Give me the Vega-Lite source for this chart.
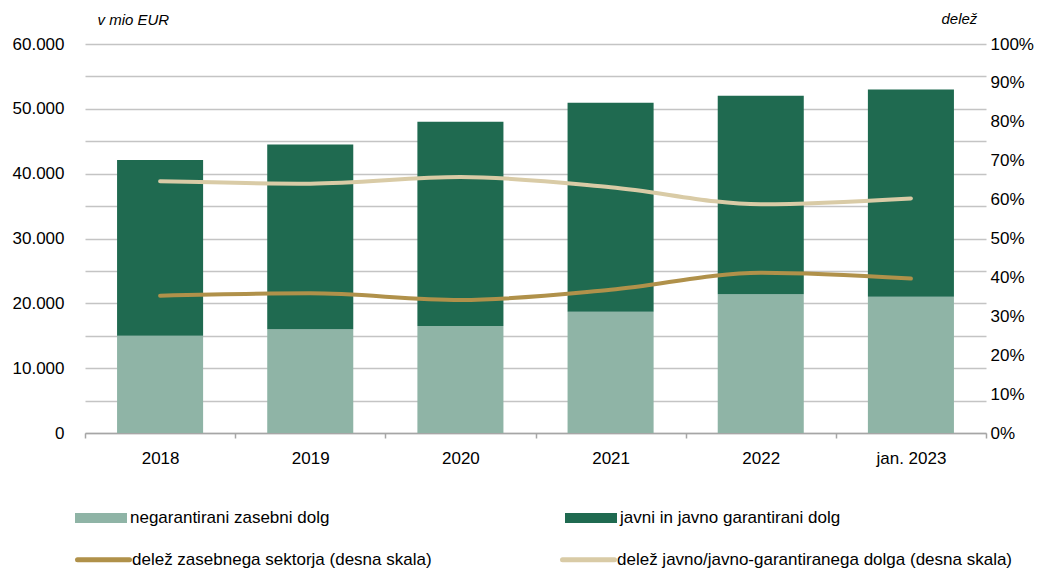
{
  "$schema": "https://vega.github.io/schema/vega-lite/v6.json",
  "width": 901,
  "height": 389,
  "autosize": {"type": "none"},
  "padding": {"left": 85, "top": 44, "right": 65, "bottom": 138},
  "background": "white",
  "config": {
    "view": {"stroke": null},
    "font": "Liberation Sans",
    "axis": {"labelFont": "Liberation Sans", "labelFontSize": 17, "labelColor": "#000000", "titleFont": "Liberation Sans"},
    "legend": {"labelFont": "Liberation Sans", "labelFontSize": 17, "labelColor": "#000000", "labelLimit": 0}
  },
  "datasets": {
    "bars": [
      {"year": "2018", "part": "negarantirani zasebni dolg", "value": 15000},
      {"year": "2018", "part": "javni in javno garantirani dolg", "value": 27100},
      {"year": "2019", "part": "negarantirani zasebni dolg", "value": 16000},
      {"year": "2019", "part": "javni in javno garantirani dolg", "value": 28500},
      {"year": "2020", "part": "negarantirani zasebni dolg", "value": 16500},
      {"year": "2020", "part": "javni in javno garantirani dolg", "value": 31500},
      {"year": "2021", "part": "negarantirani zasebni dolg", "value": 18700},
      {"year": "2021", "part": "javni in javno garantirani dolg", "value": 32250},
      {"year": "2022", "part": "negarantirani zasebni dolg", "value": 21400},
      {"year": "2022", "part": "javni in javno garantirani dolg", "value": 30600},
      {"year": "jan. 2023", "part": "negarantirani zasebni dolg", "value": 21000},
      {"year": "jan. 2023", "part": "javni in javno garantirani dolg", "value": 32000}
    ],
    "shares": [
      {"year": "2018", "series": "delež zasebnega sektorja (desna skala)", "share": 0.353},
      {"year": "2019", "series": "delež zasebnega sektorja (desna skala)", "share": 0.359},
      {"year": "2020", "series": "delež zasebnega sektorja (desna skala)", "share": 0.342},
      {"year": "2021", "series": "delež zasebnega sektorja (desna skala)", "share": 0.368},
      {"year": "2022", "series": "delež zasebnega sektorja (desna skala)", "share": 0.412},
      {"year": "jan. 2023", "series": "delež zasebnega sektorja (desna skala)", "share": 0.397},
      {"year": "2018", "series": "delež javno/javno-garantiranega dolga (desna skala)", "share": 0.647},
      {"year": "2019", "series": "delež javno/javno-garantiranega dolga (desna skala)", "share": 0.641},
      {"year": "2020", "series": "delež javno/javno-garantiranega dolga (desna skala)", "share": 0.658},
      {"year": "2021", "series": "delež javno/javno-garantiranega dolga (desna skala)", "share": 0.632},
      {"year": "2022", "series": "delež javno/javno-garantiranega dolga (desna skala)", "share": 0.588},
      {"year": "jan. 2023", "series": "delež javno/javno-garantiranega dolga (desna skala)", "share": 0.603}
    ]
  },
  "layer": [
    {
      "data": {"name": "bars"},
      "mark": {"type": "bar", "width": {"band": 0.573}},
      "encoding": {
        "x": {
          "field": "year", "type": "nominal",
          "scale": {"domain": ["2018", "2019", "2020", "2021", "2022", "jan. 2023"], "paddingInner": 0, "paddingOuter": 0},
          "axis": {
            "title": null, "labelAngle": 0, "tickBand": "extent", "ticks": true, "tickSize": 5,
            "tickColor": "#a6a6a6", "domainColor": "#a6a6a6", "domainWidth": 1.5, "tickWidth": 1.5,
            "labelPadding": 12, "grid": false
          }
        },
        "y": {
          "field": "value", "type": "quantitative", "stack": "zero",
          "scale": {"domain": [0, 60000], "nice": false},
          "axis": {
            "title": "v mio EUR", "titleAngle": 0, "titleAlign": "left", "titleBaseline": "alphabetic",
            "titleX": 12, "titleY": -20, "titleFontSize": 15, "titleFontStyle": "italic", "titleFontWeight": "normal", "titleColor": "#000000",
            "values": [0, 5000, 10000, 15000, 20000, 25000, 30000, 35000, 40000, 45000, 50000, 55000, 60000],
            "labelExpr": "datum.value % 10000 == 0 ? replace(format(datum.value, ','), ',', '.') : ''",
            "grid": true, "gridColor": "#c4c4c4", "gridWidth": 1.5,
            "ticks": false, "domain": false, "labelPadding": 21
          }
        },
        "color": {
          "field": "part", "type": "nominal",
          "scale": {"domain": ["negarantirani zasebni dolg", "javni in javno garantirani dolg"], "range": ["#8fb4a6", "#1f6a50"]},
          "legend": {
            "title": null, "orient": "none", "legendX": 6, "legendY": 464, "columns": 2, "columnPadding": 235,
            "symbolType": "M-2.6,-0.5H2.6V0.5H-2.6Z", "symbolSize": 400, "symbolStrokeWidth": 0,
            "labelOffset": 19, "padding": 0
          }
        },
        "order": {"field": "part", "sort": "descending"}
      }
    },
    {
      "data": {"name": "shares"},
      "mark": {"type": "line", "interpolate": "monotone", "strokeWidth": 4, "strokeCap": "round"},
      "encoding": {
        "x": {"field": "year", "type": "nominal"},
        "y": {
          "field": "share", "type": "quantitative",
          "scale": {"domain": [0, 1], "nice": false},
          "axis": {
            "orient": "right", "title": "delež", "titleAngle": 0, "titleAlign": "left", "titleBaseline": "alphabetic",
            "titleX": -45, "titleY": -21, "titleFontSize": 15, "titleFontStyle": "italic", "titleFontWeight": "normal", "titleColor": "#000000",
            "values": [0, 0.1, 0.2, 0.3, 0.4, 0.5, 0.6, 0.7, 0.8, 0.9, 1],
            "format": ".0%", "grid": false, "ticks": false, "domain": false, "labelPadding": 4
          }
        },
        "stroke": {
          "field": "series", "type": "nominal",
          "scale": {"domain": ["delež zasebnega sektorja (desna skala)", "delež javno/javno-garantiranega dolga (desna skala)"], "range": ["#b0914a", "#d9cba6"]},
          "legend": {
            "title": null, "orient": "none", "legendX": 6, "legendY": 503, "columns": 2, "columnPadding": 120,
            "symbolType": "M-2.6,0H2.6", "symbolSize": 400, "symbolStrokeWidth": 5,
            "labelOffset": 16, "padding": 0,
            "encode": {"symbols": {"update": {"strokeCap": {"value": "round"}}}}
          }
        }
      }
    }
  ],
  "resolve": {"scale": {"y": "independent"}}
}
